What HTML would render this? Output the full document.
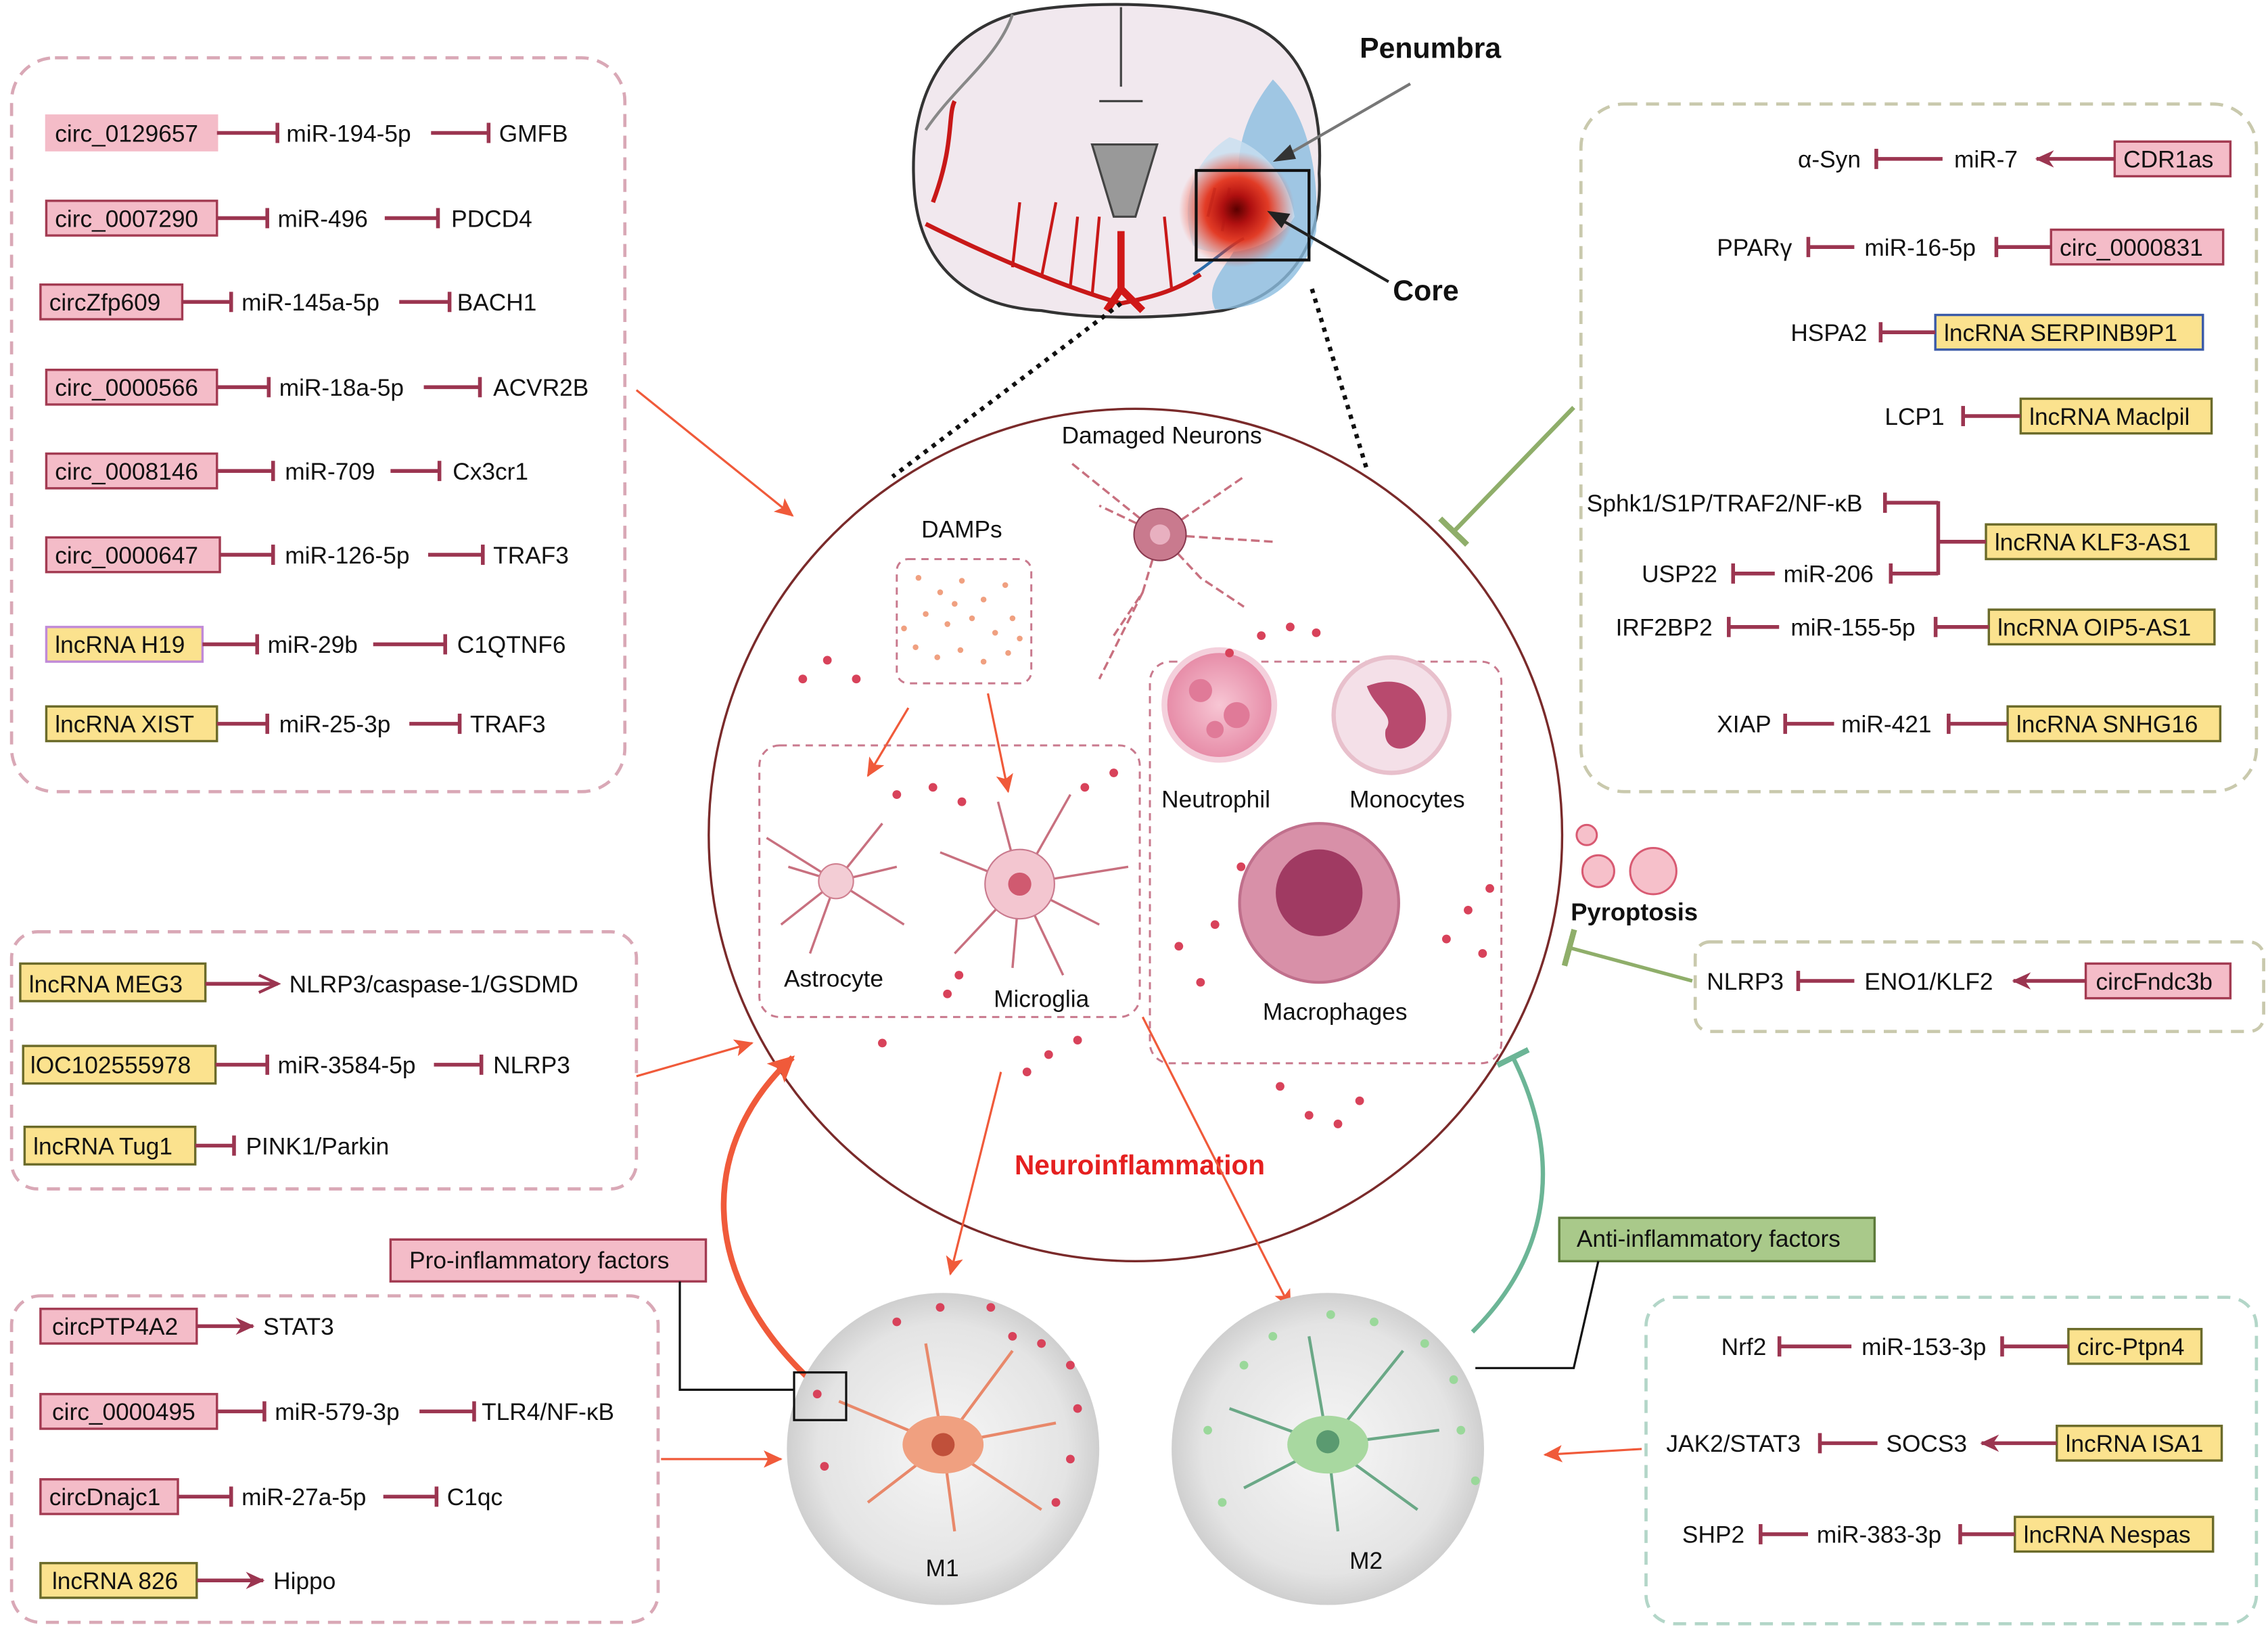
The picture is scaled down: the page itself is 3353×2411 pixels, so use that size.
<!DOCTYPE html>
<html><head><meta charset="utf-8"><style>
html,body{margin:0;padding:0;background:#fff}
svg{display:block}
text{font-family:"Liberation Sans",Arial,sans-serif;font-size:16.5px;fill:#111}
</style></head><body>
<svg width="3353" height="2411" viewBox="0 0 1568 1129" preserveAspectRatio="none" xmlns="http://www.w3.org/2000/svg">
<defs>
<marker id="t" markerWidth="4" markerHeight="16" refX="2" refY="8" orient="auto" markerUnits="userSpaceOnUse"><rect x="0.5" y="1" width="2.6" height="14" fill="#9b3550"/></marker>
<marker id="a" markerWidth="14" markerHeight="12" refX="12" refY="6" orient="auto" markerUnits="userSpaceOnUse"><path d="M0,0 L13,6 L0,12 L4,6z" fill="#9b3550"/></marker>
<marker id="ao" markerWidth="16" markerHeight="14" refX="14" refY="7" orient="auto" markerUnits="userSpaceOnUse"><path d="M1,1 L14,7 L1,13" fill="none" stroke="#9b3550" stroke-width="2"/></marker>
<marker id="ra" markerWidth="14" markerHeight="12" refX="12" refY="6" orient="auto" markerUnits="userSpaceOnUse"><path d="M0,0 L13,6 L0,12 L3,6z" fill="#f05a3a"/></marker>
<marker id="rab" markerWidth="20" markerHeight="18" refX="16" refY="9" orient="auto" markerUnits="userSpaceOnUse"><path d="M0,0 L18,9 L0,18 L4,9z" fill="#f05a3a"/></marker>
<marker id="gt" markerWidth="4" markerHeight="26" refX="2" refY="13" orient="auto" markerUnits="userSpaceOnUse"><rect x="0" y="0" width="4" height="26" fill="#8fae6a"/></marker>
<marker id="tt" markerWidth="4" markerHeight="24" refX="2" refY="12" orient="auto" markerUnits="userSpaceOnUse"><rect x="0" y="0" width="4" height="24" fill="#6cb596"/></marker>
<radialGradient id="core"><stop offset="0" stop-color="#5a0000"/><stop offset="0.25" stop-color="#b01010"/><stop offset="0.55" stop-color="#e52a10" stop-opacity="0.9"/><stop offset="1" stop-color="#ff4020" stop-opacity="0"/></radialGradient>
<radialGradient id="mg"><stop offset="0" stop-color="#f6f6f6"/><stop offset="0.8" stop-color="#e4e4e4"/><stop offset="1" stop-color="#cfcfcf"/></radialGradient>
<radialGradient id="pk"><stop offset="0" stop-color="#f7c6d4"/><stop offset="1" stop-color="#e68aa6"/></radialGradient>
</defs>

<!-- Panels -->
<g fill="none" stroke-width="2.2" stroke-dasharray="9,6">
<rect x="8" y="40" width="424" height="508" rx="30" stroke="#d9a8b6"/>
<rect x="1093" y="72" width="467" height="476" rx="30" stroke="#c9c9ad"/>
<rect x="8" y="645" width="432" height="178" rx="18" stroke="#d9a8b6"/>
<rect x="8" y="897" width="447" height="226" rx="20" stroke="#d9a8b6"/>
<rect x="1138" y="898" width="422" height="226" rx="20" stroke="#b3d6c8"/>
<rect x="1172" y="652" width="393" height="62" rx="10" stroke="#c9c9ad"/>
</g>

<g stroke-width="1.6">
<rect x="32" y="80" width="118" height="24" fill="#f4bcc8" stroke="#f4bcc8"/>
<rect x="32" y="139" width="118" height="24" fill="#f4bcc8" stroke="#a33b52"/>
<rect x="28" y="197" width="98" height="24" fill="#f4bcc8" stroke="#a33b52"/>
<rect x="32" y="256" width="118" height="24" fill="#f4bcc8" stroke="#a33b52"/>
<rect x="32" y="314" width="118" height="24" fill="#f4bcc8" stroke="#a33b52"/>
<rect x="32" y="372" width="120" height="24" fill="#f4bcc8" stroke="#a33b52"/>
<rect x="32" y="434" width="108" height="24" fill="#fbe28e" stroke="#c08ad8"/>
<rect x="32" y="489" width="118" height="24" fill="#fbe28e" stroke="#6b6b2a"/>
<rect x="1462" y="98" width="80" height="24" fill="#f4bcc8" stroke="#a33b52"/>
<rect x="1418" y="159" width="119" height="24" fill="#f4bcc8" stroke="#a33b52"/>
<rect x="1338" y="218" width="185" height="24" fill="#fbe28e" stroke="#3a5aa8"/>
<rect x="1397" y="276" width="132" height="24" fill="#fbe28e" stroke="#6b6b2a"/>
<rect x="1373" y="363" width="159" height="24" fill="#fbe28e" stroke="#6b6b2a"/>
<rect x="1375" y="422" width="156" height="24" fill="#fbe28e" stroke="#6b6b2a"/>
<rect x="1388" y="489" width="147" height="24" fill="#fbe28e" stroke="#6b6b2a"/>
<rect x="14" y="667" width="128" height="26" fill="#fbe28e" stroke="#6b6b2a"/>
<rect x="16" y="724" width="133" height="26" fill="#fbe28e" stroke="#6b6b2a"/>
<rect x="17" y="780" width="118" height="26" fill="#fbe28e" stroke="#6b6b2a"/>
<rect x="28" y="906" width="108" height="24" fill="#f4bcc8" stroke="#a33b52"/>
<rect x="28" y="965" width="122" height="24" fill="#f4bcc8" stroke="#a33b52"/>
<rect x="28" y="1024" width="95" height="24" fill="#f4bcc8" stroke="#a33b52"/>
<rect x="28" y="1082" width="108" height="24" fill="#fbe28e" stroke="#6b6b2a"/>
<rect x="1430" y="920" width="92" height="24" fill="#fbe28e" stroke="#6b6b2a"/>
<rect x="1422" y="987" width="114" height="24" fill="#fbe28e" stroke="#6b6b2a"/>
<rect x="1393" y="1050" width="137" height="24" fill="#fbe28e" stroke="#6b6b2a"/>
<rect x="1442" y="667" width="100" height="24" fill="#f4bcc8" stroke="#a33b52"/>
<rect x="270" y="858" width="218" height="29" fill="#f4bcc8" stroke="#a33b52"/>
<rect x="1078" y="843" width="218" height="30" fill="#a9c98a" stroke="#5d7a3a"/>
</g>

<g stroke="#9b3550" stroke-width="2.6" fill="none">
<line x1="150" y1="92" x2="192" y2="92" marker-end="url(#t)"/><line x1="298" y1="92" x2="338" y2="92" marker-end="url(#t)"/>
<line x1="150" y1="151" x2="185" y2="151" marker-end="url(#t)"/><line x1="266" y1="151" x2="303" y2="151" marker-end="url(#t)"/>
<line x1="126" y1="209" x2="160" y2="209" marker-end="url(#t)"/><line x1="276" y1="209" x2="311" y2="209" marker-end="url(#t)"/>
<line x1="150" y1="268" x2="186" y2="268" marker-end="url(#t)"/><line x1="293" y1="268" x2="332" y2="268" marker-end="url(#t)"/>
<line x1="150" y1="326" x2="189" y2="326" marker-end="url(#t)"/><line x1="270" y1="326" x2="304" y2="326" marker-end="url(#t)"/>
<line x1="152" y1="384" x2="189" y2="384" marker-end="url(#t)"/><line x1="296" y1="384" x2="334" y2="384" marker-end="url(#t)"/>
<line x1="140" y1="446" x2="178" y2="446" marker-end="url(#t)"/><line x1="258" y1="446" x2="308" y2="446" marker-end="url(#t)"/>
<line x1="150" y1="501" x2="185" y2="501" marker-end="url(#t)"/><line x1="283" y1="501" x2="318" y2="501" marker-end="url(#t)"/>

<line x1="1343" y1="110" x2="1297" y2="110" marker-end="url(#t)"/><line x1="1462" y1="110" x2="1408" y2="110" marker-end="url(#a)"/>
<line x1="1282" y1="171" x2="1250" y2="171" marker-end="url(#t)"/><line x1="1418" y1="171" x2="1380" y2="171" marker-end="url(#t)"/>
<line x1="1338" y1="230" x2="1300" y2="230" marker-end="url(#t)"/>
<line x1="1397" y1="288" x2="1357" y2="288" marker-end="url(#t)"/>
<line x1="1340" y1="348" x2="1303" y2="348" marker-end="url(#t)"/>
<line x1="1340" y1="397" x2="1307" y2="397" marker-end="url(#t)"/>
<line x1="1340" y1="347" x2="1340" y2="398"/><line x1="1340" y1="375" x2="1373" y2="375"/>
<line x1="1227" y1="397" x2="1198" y2="397" marker-end="url(#t)"/>
<line x1="1230" y1="434" x2="1195" y2="434" marker-end="url(#t)"/><line x1="1375" y1="434" x2="1338" y2="434" marker-end="url(#t)"/>
<line x1="1268" y1="501" x2="1234" y2="501" marker-end="url(#t)"/><line x1="1388" y1="501" x2="1347" y2="501" marker-end="url(#t)"/>

<line x1="142" y1="681" x2="192" y2="681" marker-end="url(#ao)"/>
<line x1="149" y1="737" x2="185" y2="737" marker-end="url(#t)"/><line x1="300" y1="737" x2="333" y2="737" marker-end="url(#t)"/>
<line x1="135" y1="793" x2="162" y2="793" marker-end="url(#t)"/>

<line x1="136" y1="918" x2="175" y2="918" marker-end="url(#a)"/>
<line x1="150" y1="977" x2="183" y2="977" marker-end="url(#t)"/><line x1="290" y1="977" x2="328" y2="977" marker-end="url(#t)"/>
<line x1="123" y1="1036" x2="160" y2="1036" marker-end="url(#t)"/><line x1="265" y1="1036" x2="302" y2="1036" marker-end="url(#t)"/>
<line x1="136" y1="1094" x2="182" y2="1094" marker-end="url(#a)"/>

<line x1="1280" y1="932" x2="1230" y2="932" marker-end="url(#t)"/><line x1="1430" y1="932" x2="1384" y2="932" marker-end="url(#t)"/>
<line x1="1298" y1="999" x2="1258" y2="999" marker-end="url(#t)"/><line x1="1422" y1="999" x2="1370" y2="999" marker-end="url(#a)"/>
<line x1="1250" y1="1062" x2="1217" y2="1062" marker-end="url(#t)"/><line x1="1393" y1="1062" x2="1355" y2="1062" marker-end="url(#t)"/>

<line x1="1282" y1="679" x2="1243" y2="679" marker-end="url(#t)"/><line x1="1442" y1="679" x2="1392" y2="679" marker-end="url(#a)"/>
</g>

<g>
<text x="38" y="98">circ_0129657</text><text x="198" y="98">miR-194-5p</text><text x="345" y="98">GMFB</text>
<text x="38" y="157">circ_0007290</text><text x="192" y="157">miR-496</text><text x="312" y="157">PDCD4</text>
<text x="34" y="215">circZfp609</text><text x="167" y="215">miR-145a-5p</text><text x="316" y="215">BACH1</text>
<text x="38" y="274">circ_0000566</text><text x="193" y="274">miR-18a-5p</text><text x="341" y="274">ACVR2B</text>
<text x="38" y="332">circ_0008146</text><text x="197" y="332">miR-709</text><text x="313" y="332">Cx3cr1</text>
<text x="38" y="390">circ_0000647</text><text x="197" y="390">miR-126-5p</text><text x="341" y="390">TRAF3</text>
<text x="38" y="452">lncRNA H19</text><text x="185" y="452">miR-29b</text><text x="316" y="452">C1QTNF6</text>
<text x="38" y="507">lncRNA XIST</text><text x="193" y="507">miR-25-3p</text><text x="325" y="507">TRAF3</text>

<text x="1243" y="116">α-Syn</text><text x="1351" y="116">miR-7</text><text x="1468" y="116">CDR1as</text>
<text x="1187" y="177">PPARγ</text><text x="1289" y="177">miR-16-5p</text><text x="1424" y="177">circ_0000831</text>
<text x="1238" y="236">HSPA2</text><text x="1344" y="236">lncRNA SERPINB9P1</text>
<text x="1303" y="294">LCP1</text><text x="1403" y="294">lncRNA Maclpil</text>
<text x="1097" y="354">Sphk1/S1P/TRAF2/NF-κB</text><text x="1379" y="381">lncRNA KLF3-AS1</text>
<text x="1135" y="403">USP22</text><text x="1233" y="403">miR-206</text>
<text x="1117" y="440">IRF2BP2</text><text x="1238" y="440">miR-155-5p</text><text x="1381" y="440">lncRNA OIP5-AS1</text>
<text x="1187" y="507">XIAP</text><text x="1273" y="507">miR-421</text><text x="1394" y="507">lncRNA SNHG16</text>

<text x="20" y="687">lncRNA MEG3</text><text x="200" y="687">NLRP3/caspase-1/GSDMD</text>
<text x="21" y="743">lOC102555978</text><text x="192" y="743">miR-3584-5p</text><text x="341" y="743">NLRP3</text>
<text x="23" y="799">lncRNA Tug1</text><text x="170" y="799">PINK1/Parkin</text>

<text x="36" y="924">circPTP4A2</text><text x="182" y="924">STAT3</text>
<text x="36" y="983">circ_0000495</text><text x="190" y="983">miR-579-3p</text><text x="333" y="983">TLR4/NF-κB</text>
<text x="34" y="1042">circDnajc1</text><text x="167" y="1042">miR-27a-5p</text><text x="309" y="1042">C1qc</text>
<text x="36" y="1100">lncRNA 826</text><text x="189" y="1100">Hippo</text>

<text x="1190" y="938">Nrf2</text><text x="1287" y="938">miR-153-3p</text><text x="1436" y="938">circ-Ptpn4</text>
<text x="1152" y="1005">JAK2/STAT3</text><text x="1304" y="1005">SOCS3</text><text x="1428" y="1005">lncRNA ISA1</text>
<text x="1163" y="1068">SHP2</text><text x="1256" y="1068">miR-383-3p</text><text x="1399" y="1068">lncRNA Nespas</text>

<text x="1180" y="685">NLRP3</text><text x="1289" y="685">ENO1/KLF2</text><text x="1449" y="685">circFndc3b</text>

<text x="283" y="878">Pro-inflammatory factors</text>
<text x="1090" y="863">Anti-inflammatory factors</text>
</g>

<!-- Brain -->
<g>
<path d="M700,10 C740,0 820,0 860,15 C900,30 915,70 912,120 C915,170 890,205 845,215 C810,220 760,222 720,215 C665,212 635,180 632,130 C628,70 650,25 700,10z" fill="#f1e8ee" stroke="#333" stroke-width="2"/>
<path d="M880,55 C905,80 912,120 910,160 C900,200 870,215 840,214 C830,190 860,180 860,150 C850,110 860,80 880,55z" fill="#8bbde0" opacity="0.8"/>
<path d="M850,95 C870,100 890,120 895,150 C880,175 840,180 825,170 C815,140 825,110 850,95z" fill="#c8def0" opacity="0.8"/>
<path d="M700,10 C690,40 660,60 640,90" fill="none" stroke="#888" stroke-width="2"/>
<path d="M775,5 L775,60 M760,70 L790,70 M755,100 L770,150 L785,150 L800,100z" fill="#999" stroke="#444" stroke-width="1.5"/>
<path d="M645,140 C660,100 655,80 660,70 M640,155 C690,180 740,200 775,210 C800,205 815,200 830,190" fill="none" stroke="#c81818" stroke-width="3"/>
<path d="M700,185 L705,140 M720,192 L730,140 M740,198 L745,150 M755,205 L760,150 M810,200 L805,150" fill="none" stroke="#c81818" stroke-width="2"/>
<path d="M775,160 L775,200 L765,215 M775,200 L790,215" fill="none" stroke="#d01818" stroke-width="5"/>
<path d="M825,190 C840,180 850,170 860,165 M835,150 L840,130 M845,160 L850,130" fill="none" stroke="#2a6aa8" stroke-width="2"/>
<circle cx="855" cy="145" r="40" fill="url(#core)"/>
<rect x="827" y="118" width="78" height="62" fill="none" stroke="#111" stroke-width="2"/>
<line x1="975" y1="58" x2="885" y2="110" stroke="#777" stroke-width="2"/>
<path d="M880,112 L892,100 L896,110z" fill="#333"/>
<line x1="960" y1="195" x2="882" y2="150" stroke="#222" stroke-width="2"/>
<path d="M876,146 L892,148 L886,158z" fill="#222"/>
<text x="940" y="40" style="font-weight:bold;font-size:20px">Penumbra</text>
<text x="963" y="208" style="font-weight:bold;font-size:20px">Core</text>
</g>
<line x1="775" y1="210" x2="617" y2="330" stroke="#111" stroke-width="3" stroke-dasharray="3,4"/>
<line x1="907" y1="200" x2="945" y2="325" stroke="#111" stroke-width="3" stroke-dasharray="3,4"/>

<circle cx="785" cy="578" r="295" fill="#fff" stroke="#7a2a2a" stroke-width="1.6"/>
<g fill="none" stroke="#c97a8e" stroke-width="1.4" stroke-dasharray="5,4">
<rect x="525" y="516" width="263" height="188" rx="14"/>
<rect x="795" y="458" width="243" height="278" rx="14"/>
<rect x="620" y="387" width="93" height="86" rx="8"/>
</g>
<g fill="#f0a080">
<circle cx="635" cy="400" r="2"/><circle cx="650" cy="410" r="2"/><circle cx="665" cy="402" r="2"/><circle cx="680" cy="415" r="2"/><circle cx="695" cy="405" r="2"/><circle cx="640" cy="425" r="2"/><circle cx="655" cy="432" r="2"/><circle cx="672" cy="428" r="2"/><circle cx="688" cy="438" r="2"/><circle cx="700" cy="428" r="2"/><circle cx="633" cy="448" r="2"/><circle cx="648" cy="455" r="2"/><circle cx="664" cy="450" r="2"/><circle cx="680" cy="458" r="2"/><circle cx="697" cy="452" r="2"/><circle cx="705" cy="442" r="2"/><circle cx="660" cy="418" r="2"/><circle cx="625" cy="435" r="2"/>
</g>
<text x="734" y="307">Damaged Neurons</text>
<text x="637" y="372">DAMPs</text>
<text x="542" y="683">Astrocyte</text>
<text x="687" y="697">Microglia</text>
<text x="803" y="559">Neutrophil</text>
<text x="933" y="559">Monocytes</text>
<text x="873" y="706">Macrophages</text>

<g fill="none" stroke="#c8707f" stroke-width="1.6">
<path d="M802,370 L740,320 M802,370 L860,330 M802,370 L790,410 L770,440 M802,370 L830,400 L860,420 M790,410 L760,470 M802,370 L760,350 M802,370 L880,375" stroke-dasharray="6,3"/>
<path d="M578,610 L530,580 M578,610 L540,640 M578,610 L610,570 M578,610 L625,640 M578,610 L560,660 M578,610 L620,600 M578,610 L545,600"/>
<path d="M705,612 L650,590 M705,612 L690,555 M705,612 L740,550 M705,612 L780,600 M705,612 L760,640 M705,612 L700,670 M705,612 L660,660 M705,612 L735,675"/>
</g>
<circle cx="802" cy="370" r="18" fill="#c97a8e" stroke="#8a3a50"/>
<circle cx="802" cy="370" r="7" fill="#e8b0c0"/>
<circle cx="578" cy="610" r="12" fill="#f3cdd5" stroke="#d08090"/>
<circle cx="705" cy="612" r="24" fill="#f3c6d0" stroke="#c97a8e"/>
<circle cx="705" cy="612" r="8" fill="#d05a70"/>
<circle cx="843" cy="488" r="38" fill="url(#pk)" stroke="#f4d0dc" stroke-width="4"/>
<circle cx="830" cy="478" r="8" fill="#e07a98"/><circle cx="855" cy="495" r="9" fill="#e07a98"/><circle cx="840" cy="505" r="6" fill="#e07a98"/>
<circle cx="962" cy="495" r="40" fill="#f4e0e8" stroke="#e8c0cc" stroke-width="3"/>
<path d="M945,475 C970,465 990,480 985,505 C975,525 955,520 958,505 C965,495 950,490 945,475z" fill="#b84a6e"/>
<circle cx="912" cy="625" r="55" fill="#d890a8" stroke="#c0708c" stroke-width="2"/>
<circle cx="912" cy="618" r="30" fill="#a03a62"/>

<g fill="#d8425a">
<circle cx="555" cy="470" r="3"/><circle cx="572" cy="457" r="3"/><circle cx="592" cy="470" r="3"/>
<circle cx="850" cy="452" r="3"/><circle cx="872" cy="440" r="3"/><circle cx="892" cy="434" r="3"/><circle cx="910" cy="438" r="3"/>
<circle cx="620" cy="550" r="3"/><circle cx="645" cy="545" r="3"/><circle cx="665" cy="555" r="3"/><circle cx="750" cy="545" r="3"/><circle cx="770" cy="535" r="3"/>
<circle cx="610" cy="722" r="3"/><circle cx="710" cy="742" r="3"/><circle cx="725" cy="730" r="3"/><circle cx="745" cy="720" r="3"/>
<circle cx="885" cy="752" r="3"/><circle cx="905" cy="772" r="3"/><circle cx="925" cy="778" r="3"/><circle cx="940" cy="762" r="3"/>
<circle cx="815" cy="655" r="3"/><circle cx="830" cy="680" r="3"/><circle cx="840" cy="640" r="3"/><circle cx="858" cy="600" r="3"/><circle cx="1000" cy="650" r="3"/><circle cx="1015" cy="630" r="3"/><circle cx="1025" cy="660" r="3"/><circle cx="1030" cy="615" r="3"/>
<circle cx="655" cy="688" r="3"/><circle cx="663" cy="675" r="3"/>
</g>

<rect x="686" y="792" width="204" height="28" fill="#fff"/>
<text x="788" y="813" text-anchor="middle" style="fill:#e52020;font-weight:bold;font-size:19px">Neuroinflammation</text>

<g stroke="#f05a3a" stroke-width="1.5" fill="none">
<line x1="628" y1="490" x2="600" y2="537" marker-end="url(#ra)"/>
<line x1="683" y1="480" x2="697" y2="548" marker-end="url(#ra)"/>
<line x1="692" y1="742" x2="657" y2="882" marker-end="url(#ra)"/>
<line x1="790" y1="704" x2="892" y2="905" marker-end="url(#ra)"/>
<line x1="440" y1="270" x2="548" y2="357" marker-end="url(#ra)"/>
<line x1="440" y1="745" x2="520" y2="722" marker-end="url(#ra)"/>
<line x1="457" y1="1010" x2="540" y2="1010" marker-end="url(#ra)"/>
<line x1="1135" y1="1003" x2="1068" y2="1007" marker-end="url(#ra)"/>
<path d="M560,955 C480,880 485,790 548,732" stroke-width="4" marker-end="url(#rab)"/>
</g>
<line x1="1088" y1="282" x2="1005" y2="368" stroke="#8fae6a" stroke-width="3" marker-end="url(#gt)"/>
<line x1="1170" y1="679" x2="1085" y2="656" stroke="#8fae6a" stroke-width="2.5" marker-end="url(#gt)"/>
<path d="M1018,922 C1080,860 1075,790 1046,732" stroke="#6cb596" stroke-width="3" fill="none" marker-end="url(#tt)"/>

<g fill="#f6c0ca" stroke="#d85a72" stroke-width="1.4">
<circle cx="1097" cy="578" r="7"/><circle cx="1105" cy="603" r="11"/><circle cx="1143" cy="603" r="16"/>
</g>
<text x="1086" y="637" style="font-weight:bold;font-size:17px">Pyroptosis</text>

<circle cx="652" cy="1003" r="108" fill="url(#mg)"/>
<circle cx="918" cy="1003" r="108" fill="url(#mg)"/>
<g fill="none" stroke="#e8886a" stroke-width="2">
<path d="M652,1000 L580,970 M652,1000 L600,1040 M652,1000 L640,930 M652,1000 L700,935 M652,1000 L730,985 M652,1000 L720,1045 M652,1000 L660,1060"/>
</g>
<ellipse cx="652" cy="1000" rx="28" ry="20" fill="#f0a080"/><circle cx="652" cy="1000" r="8" fill="#c0503a"/>
<g fill="none" stroke="#6aa886" stroke-width="2">
<path d="M918,1000 L850,975 M918,1000 L860,1030 M918,1000 L905,925 M918,1000 L970,935 M918,1000 L995,990 M918,1000 L980,1045 M918,1000 L925,1060"/>
</g>
<ellipse cx="918" cy="1000" rx="28" ry="20" fill="#a8d8a0"/><circle cx="918" cy="998" r="8" fill="#5a9a70"/>
<g fill="#d8425a">
<circle cx="620" cy="915" r="3"/><circle cx="650" cy="905" r="3"/><circle cx="685" cy="905" r="3"/><circle cx="700" cy="925" r="3"/><circle cx="720" cy="930" r="3"/><circle cx="740" cy="945" r="3"/><circle cx="745" cy="975" r="3"/><circle cx="740" cy="1010" r="3"/><circle cx="565" cy="965" r="3"/><circle cx="570" cy="1015" r="3"/><circle cx="730" cy="1040" r="3"/>
</g>
<g fill="#9ad89a">
<circle cx="860" cy="945" r="3"/><circle cx="880" cy="925" r="3"/><circle cx="920" cy="910" r="3"/><circle cx="950" cy="915" r="3"/><circle cx="985" cy="930" r="3"/><circle cx="1005" cy="955" r="3"/><circle cx="1010" cy="990" r="3"/><circle cx="1020" cy="1025" r="3"/><circle cx="835" cy="990" r="3"/><circle cx="845" cy="1040" r="3"/>
</g>
<text x="640" y="1091">M1</text>
<text x="933" y="1086">M2</text>

<polyline points="470,887 470,962 549,962" fill="none" stroke="#111" stroke-width="1.5"/>
<rect x="549" y="950" width="36" height="33" fill="none" stroke="#111" stroke-width="1.5"/>
<polyline points="1105,873 1088,947 1020,947" fill="none" stroke="#111" stroke-width="1.5"/>
</svg>
</body></html>
